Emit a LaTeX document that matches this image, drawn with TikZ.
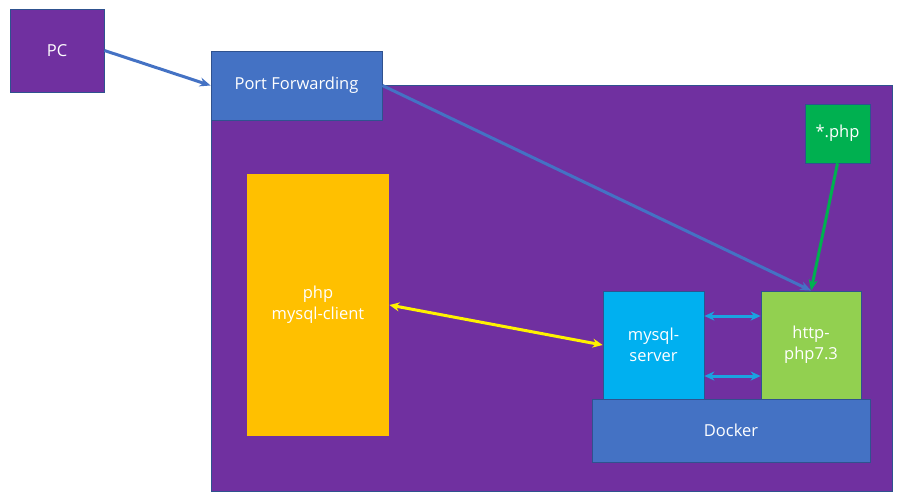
\documentclass[tikz,border=0pt]{standalone}
\usepackage{fontspec}
\setmainfont{Open Sans}
\usetikzlibrary{arrows.meta}
\definecolor{hostpurple}{HTML}{7030A0}
\definecolor{boxblue}{HTML}{4472C4}
\definecolor{edgeblue}{HTML}{2F528F}
\definecolor{clientyellow}{HTML}{FFC000}
\definecolor{servercyan}{HTML}{00B0F0}
\definecolor{linkcyan}{HTML}{1AA3E0}
\definecolor{httpgreen}{HTML}{92D050}
\definecolor{filegreen}{HTML}{00B050}
\begin{document}
\begin{tikzpicture}[x=1pt, y=-1pt,
    box/.style={draw=edgeblue, line width=0.8pt, text=white, align=center, inner sep=0pt,
        font=\fontsize{16.5}{21}\selectfont},
    link/.style={line width=3pt, -{Stealth[length=11pt, width=9pt]}},
    both/.style={line width=3pt, {Stealth[length=10pt, width=9pt]}-{Stealth[length=10pt, width=9pt]}}]
    \useasboundingbox (0,0) rectangle (902,501);
    \node[box, fill=hostpurple, minimum width=94pt, minimum height=83pt] (pc) at (57,50.5) {PC};
    \node[box, fill=hostpurple, minimum width=681pt, minimum height=406pt] (host) at (551.5,288) {};
    \node[box, fill=boxblue, minimum width=171pt, minimum height=69pt] (pf) at (296.5,85.5) {Port Forwarding};
    \node[box, fill=clientyellow, draw=none, minimum width=142pt, minimum height=262pt] (client) at (318,305) {php\\mysql-client};
    \node[box, fill=servercyan, minimum width=101pt, minimum height=108pt] (server) at (653.5,345) {mysql-\\server};
    \node[box, fill=httpgreen, minimum width=100pt, minimum height=108pt] (http) at (811,345) {http-\\php7.3};
    \node[box, fill=boxblue, minimum width=278pt, minimum height=63pt] (docker) at (731,430.5) {Docker};
    \node[box, fill=filegreen, minimum width=65pt, minimum height=59pt] (phpfile) at (837.5,133.5) {*.php};
    \draw[link, boxblue] (pc.east) -- (pf.west);
    \draw[link, boxblue] (pf.east) -- (http.north);
    \draw[link, filegreen] (phpfile.south) -- (http.north);
    \draw[both, yellow] (client.east) -- (server.west);
    \draw[both, linkcyan] ([yshift=29pt]server.east) -- ([yshift=29pt]http.west);
    \draw[both, linkcyan] ([yshift=-31pt]server.east) -- ([yshift=-31pt]http.west);
\end{tikzpicture}
\end{document}
